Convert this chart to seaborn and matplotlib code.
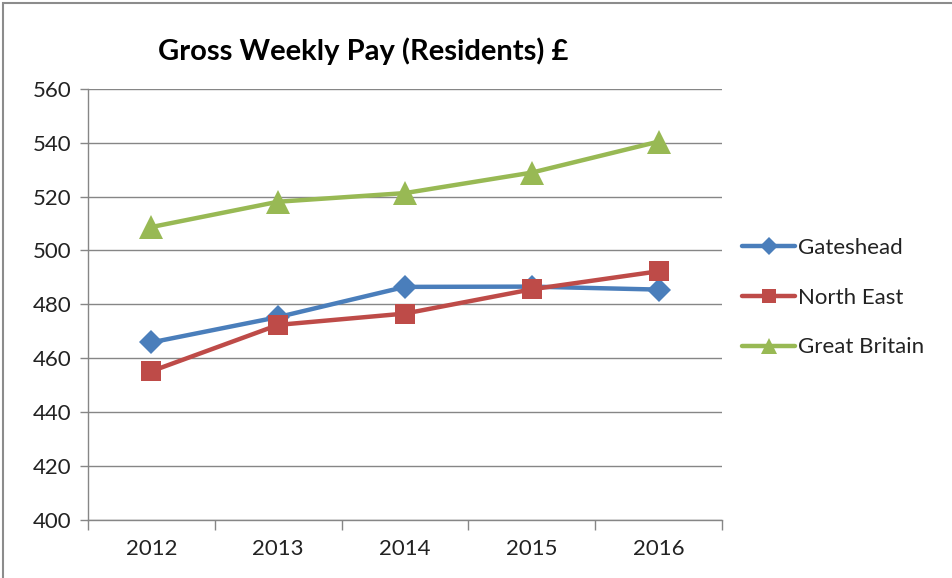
import numpy as np
import pandas as pd
import seaborn as sns
import matplotlib.pyplot as plt
from matplotlib.patches import Rectangle

years = [2012, 2013, 2014, 2015, 2016]
gateshead = [465.9, 475.3, 486.5, 486.6, 485.5]
north_east = [455.2, 472.4, 476.6, 485.6, 492.3]
great_britain = [508.7, 518.1, 521.3, 528.9, 540.4]
series_names = ["Gateshead", "North East", "Great Britain"]

df = pd.DataFrame({
    "year": years * 3,
    "pay": gateshead + north_east + great_britain,
    "area": [n for n in series_names for _ in years],
})

sns.set_style("white")
plt.rcParams['font.family'] = ['Lato', 'DejaVu Sans']

palette = {"Gateshead": "#4A7EBB", "North East": "#BE4B48", "Great Britain": "#98B954"}
markers = {"Gateshead": "D", "North East": "s", "Great Britain": "^"}
msize = {"Gateshead": 12.5, "North East": 15, "Great Britain": 17}

fig = plt.figure(figsize=(9.53, 5.78), dpi=100)
ax = fig.add_axes([0.0923, 0.1003, 0.6653, 0.7461])

sns.lineplot(data=df, x="year", y="pay", hue="area", style="area",
             palette=palette, markers=markers, dashes=False,
             linewidth=3.2, markeredgewidth=0, ax=ax, legend=False)
# marker sizes differ per series
for line, name in zip(ax.lines, series_names):
    line.set_markersize(msize[name])

ax.set_xlim(2011.5, 2016.5)
ax.set_ylim(400, 560)
ax.set_yticks(np.arange(400, 561, 20))
ax.set_xticks(years)
ax.set_xticklabels([str(y) for y in years])
ax.set_xticks(np.arange(2011.5, 2017, 1), minor=True)
ax.tick_params(axis="x", which="major", length=0, pad=14, labelsize=16, colors="#222222")
ax.tick_params(axis="x", which="minor", length=7, width=1, color="#868686", bottom=True)
ax.tick_params(axis="y", which="major", length=6, width=1, color="#868686", labelsize=16,
               pad=6, labelcolor="#222222", left=True)
ax.set_xlabel("")
ax.set_ylabel("")
ax.yaxis.grid(True, color="#868686", linewidth=1)
ax.set_axisbelow(True)
for s in ["top", "right"]:
    ax.spines[s].set_visible(False)
for s in ["left", "bottom"]:
    ax.spines[s].set_color("#868686")
    ax.spines[s].set_linewidth(1)

handles = [plt.Line2D([], [], color=palette[n], marker=markers[n], linewidth=3.2,
                      markersize=msize[n] * 0.7, markeredgewidth=0) for n in series_names]
fig.legend(handles, series_names, loc="upper left", bbox_to_anchor=(0.767, 0.607),
           frameon=False, fontsize=16, handlelength=2.4, handletextpad=0.1,
           labelspacing=1.33, borderpad=0, labelcolor="#222222")

fig.text(0.381, 0.912, "Gross Weekly Pay (Residents) £", ha="center", va="center",
         fontsize=21, fontweight="bold", color="black")

fig.patches.append(Rectangle((3 / 953, -0.1), 1.2, 1.1 - 3 / 578, transform=fig.transFigure,
                             fill=False, edgecolor="#8c8c8c", linewidth=1.5))

fig.savefig("out.png", dpi=100, facecolor="white")
